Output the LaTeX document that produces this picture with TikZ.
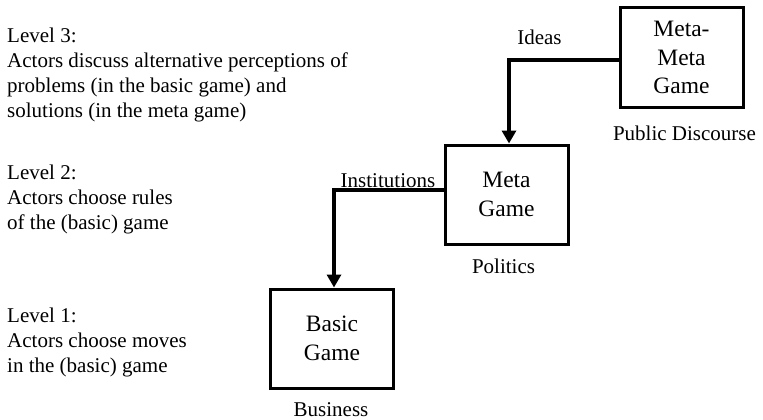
\documentclass[tikz,border=0pt]{standalone}
\usepackage{fontspec}
\setmainfont{Liberation Serif}
\usetikzlibrary{arrows.meta}

\tikzset{
  gamebox/.style={draw, line width=3pt, minimum width=123pt, minimum height=99pt,
    inner sep=0pt, align=center, font=\fontsize{23.5}{28.5}\selectfont},
  lbl/.style={inner sep=0pt, font=\fontsize{21}{25}\selectfont},
  leveltext/.style={inner sep=0pt, align=left, anchor=north west,
    font=\fontsize{21}{25}\selectfont},
  flow/.style={line width=3.8pt, -{Triangle[width=14pt,length=13pt]}}
}

\begin{document}
\begin{tikzpicture}[x=1pt,y=-1pt]
  \useasboundingbox (0,0) rectangle (763,420);

  % the three games
  \node[gamebox] (mm)    at (681.5,57.5) {Meta-\\Meta\\Game};
  \node[gamebox] (meta)  at (506.5,194.5) {Meta\\Game};
  \node[gamebox] (basic) at (332,338.5) {Basic\\Game};

  % arena labels under the boxes
  \node[lbl, anchor=base] (pd)  at (684.5,140) {Public Discourse};
  \node[lbl, anchor=base] (pol) at (503.5,273) {Politics};
  \node[lbl, anchor=base] (bus) at (331,416) {Business};

  % flows between the levels
  \draw[flow] ([yshift=-2.5pt]mm.west) -| ([xshift=2.5pt]meta.north);
  \draw[flow] ([yshift=4.5pt]meta.west) -| ([xshift=2pt]basic.north);
  \node[lbl, anchor=base] (ideas) at (539.5,45) {Ideas};
  \node[lbl, anchor=base] (inst)  at (388,187) {Institutions};

  % level descriptions
  \node[leveltext] (l3) at (7,28) {Level 3:\\Actors discuss alternative perceptions of\\problems (in the basic game) and\\solutions (in the meta game)};
  \node[leveltext] (l2) at (7,165) {Level 2:\\Actors choose rules\\of the (basic) game};
  \node[leveltext] (l1) at (7,308) {Level 1:\\Actors choose moves\\in the (basic) game};
\end{tikzpicture}
\end{document}
